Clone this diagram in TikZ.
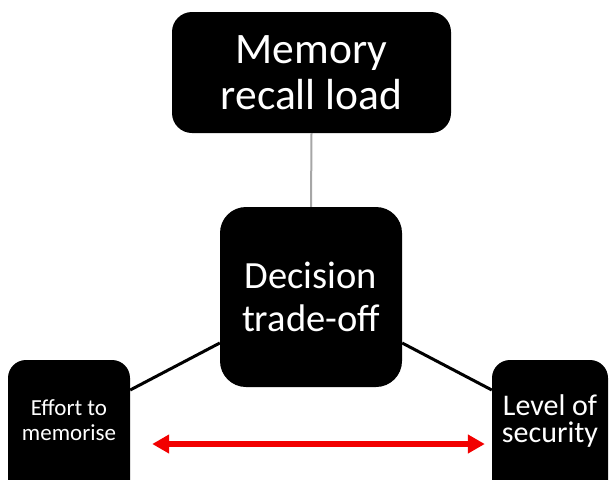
\documentclass[tikz,border=0pt]{standalone}
\usepackage{fontspec}
\setmainfont{Carlito}
\usetikzlibrary{arrows.meta}
\tikzset{
  blackbox/.style={fill=black, text=white, align=center, inner sep=0pt},
  link/.style={line width=3pt, black},
  stem/.style={line width=2pt, color=black!35},
  tradeoff/.style={line width=6pt, red!95!black,
    {Triangle[length=17pt,width=18pt]}-{Triangle[length=17pt,width=18pt]}}
}
\begin{document}
\begin{tikzpicture}[x=1pt,y=-1pt]
  \useasboundingbox (0,0) rectangle (609,479);
  \clip (0,0) rectangle (609,479);

  % top factor
  \node[blackbox, rounded corners=20pt, minimum width=279pt, minimum height=121pt,
        font=\fontsize{43.5}{46}\selectfont] (mem) at (311.5,72.5) {Memory\\recall load};

  % central decision
  \node[blackbox, rounded corners=26pt, minimum width=182pt, minimum height=180pt,
        font=\fontsize{38.5}{43}\selectfont] (dec) at (311,297) {Decision\\trade-off};

  % bottom factors, running off the lower edge
  \node[blackbox, rounded corners=18pt, minimum width=122pt, minimum height=140pt,
        text depth=20pt, font=\fontsize{23}{25}\selectfont] (eff) at (69,430) {Effort to\\memorise};
  \node[blackbox, rounded corners=18pt, minimum width=116pt, minimum height=140pt,
        text depth=23pt, font=\fontsize{30}{27}\selectfont] (sec) at (550,430) {Level of\\security};

  % connectors
  \draw[stem] (mem.south) -- (dec.north);
  \draw[link] ([yshift=-46pt]dec.west) -- ([yshift=40pt]eff.east);
  \draw[link] ([yshift=-46pt]dec.east) -- ([yshift=40pt]sec.west);

  \coordinate (arrL) at ([xshift=22pt,yshift=-14pt]eff.east);
  \coordinate (arrR) at ([xshift=-7pt,yshift=-14pt]sec.west);
  \draw[tradeoff] (arrL) -- (arrR);
\end{tikzpicture}
\end{document}
